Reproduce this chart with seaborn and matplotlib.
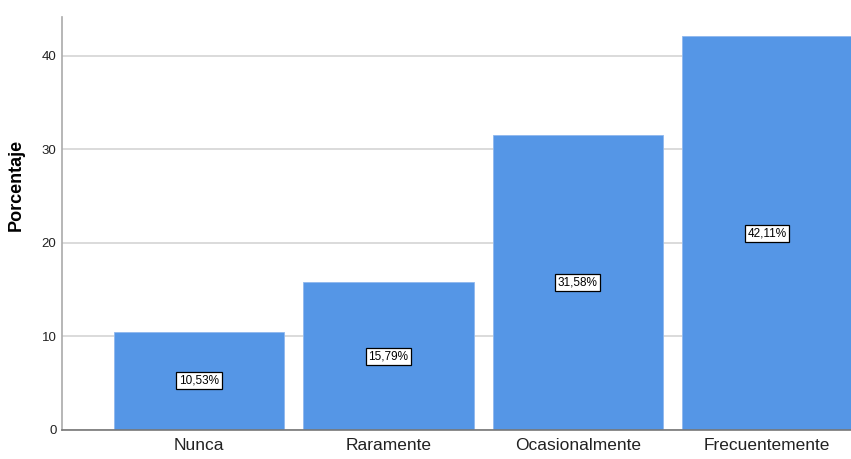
"""Bar chart of percentages per frequency category (SPSS style)."""

import matplotlib.pyplot as plt
import pandas as pd
import seaborn as sns

categorias = ["Nunca", "Raramente", "Ocasionalmente", "Frecuentemente"]
porcentajes = [10.53, 15.79, 31.58, 42.11]
etiquetas = ["10,53%", "15,79%", "31,58%", "42,11%"]
y_ticks = [0, 10, 20, 30, 40]

df = pd.DataFrame({"categoria": categorias, "porcentaje": porcentajes})

sns.set_theme(style="white")
plt.rcParams["font.family"] = ["Liberation Sans", "DejaVu Sans"]

fig = plt.figure(figsize=(8.51, 4.59), dpi=100)
ax = fig.add_axes([0.0729, 0.0632, 0.9271, 0.8998])

sns.barplot(
    data=df,
    x="categoria",
    y="porcentaje",
    color="#5596e6",
    saturation=1,
    width=0.9,
    edgecolor="#8fb8ee",
    linewidth=0.6,
    ax=ax,
    zorder=2,
)

# Value labels in the middle of each bar
for i, (val, txt) in enumerate(zip(porcentajes, etiquetas)):
    ax.text(
        i,
        val / 2,
        txt,
        ha="center",
        va="center",
        fontsize=8.5,
        color="black",
        bbox=dict(boxstyle="square,pad=0.22", facecolor="white",
                  edgecolor="black", linewidth=0.9),
        zorder=3,
    )

ax.set_xlim(-0.723, 3.443)
ax.set_ylim(0, 44.17)
ax.set_yticks(y_ticks)
ax.yaxis.grid(True, color="#d4d4d4", linewidth=1.2, zorder=0)
ax.set_axisbelow(True)

ax.set_xlabel("")
ax.set_ylabel("Porcentaje", fontsize=13, fontweight="bold", color="black")
ax.yaxis.set_label_coords(-0.047, 0.593)
ax.tick_params(axis="y", labelsize=9.5, length=0, pad=4, colors="#222222")
ax.tick_params(axis="x", labelsize=12.5, length=0, pad=6, colors="#222222")

for side in ["top", "right"]:
    ax.spines[side].set_visible(False)
ax.spines["left"].set_color("#aaaaaa")
ax.spines["left"].set_linewidth(1.2)
ax.spines["bottom"].set_color("#777777")
ax.spines["bottom"].set_linewidth(1.2)

fig.savefig("out.png", dpi=100)
